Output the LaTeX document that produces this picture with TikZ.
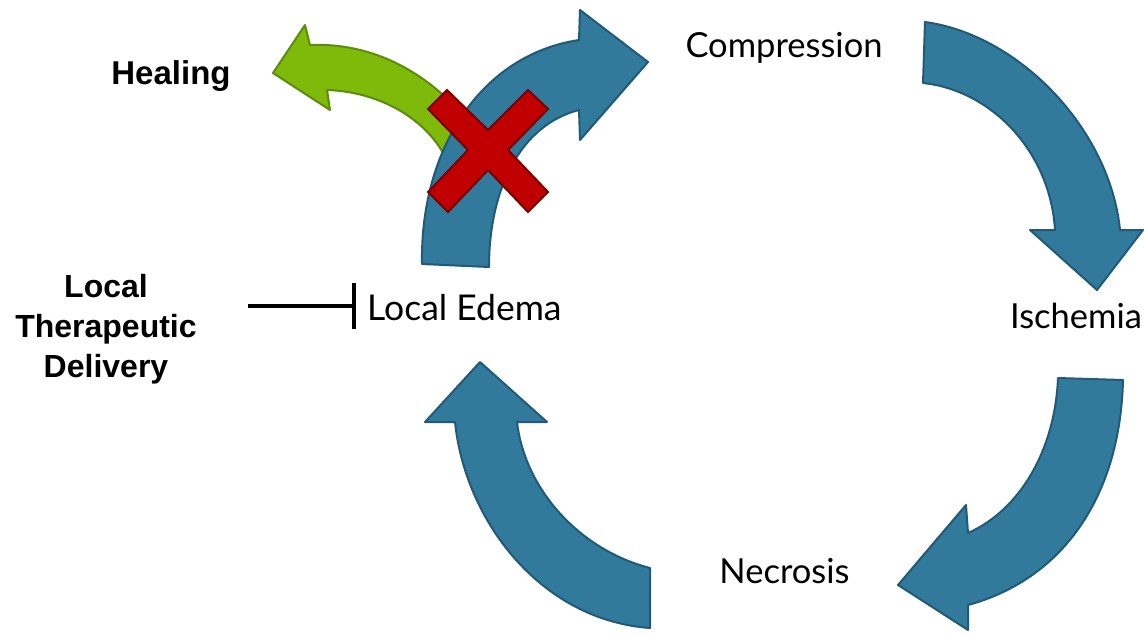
\documentclass[tikz,border=0pt]{standalone}
\usepackage{fontspec}
\setmainfont{Lato}
\newfontfamily\boldsans{Liberation Sans}
\usetikzlibrary{arrows.meta}

\definecolor{cycblue}{RGB}{49,122,155}
\definecolor{cycedge}{RGB}{33,90,118}
\definecolor{healgreen}{RGB}{127,186,10}
\definecolor{healedge}{RGB}{92,140,12}
\definecolor{stopred}{RGB}{192,0,0}
\definecolor{stopedge}{RGB}{120,0,0}

\tikzset{
  cyc/.style={fill=cycblue, draw=cycedge, line width=2pt, line join=round},
  heal/.style={fill=healgreen, draw=healedge, line width=2pt, line join=round},
  stage/.style={font=\fontsize{34.5}{40}\selectfont, inner sep=0pt},
  cue/.style={font=\boldsans\bfseries\fontsize{32}{40}\selectfont, align=center, inner sep=0pt}
}

\begin{document}
\begin{tikzpicture}[x=1pt, y=-1pt]
\useasboundingbox (0,0) rectangle (1144,635);

% green arrow to healing
\draw[heal] (452,175) .. controls (440,128) and (388,92) .. (327,90)
  -- (330,110) -- (273,73) -- (305,25) -- (310,45)
  .. controls (380,42) and (440,80) .. (478,135) -- cycle;

% cycle arrows
\draw[cyc] (422,264) .. controls (420,150) and (480,55) .. (579,40)
  -- (580,10) -- (648,62) -- (580,140) -- (579,110)
  .. controls (520,125) and (489,190) .. (489,267) -- cycle;
\draw[cyc] (925,22) .. controls (1020,35) and (1110,130) .. (1120,230)
  -- (1143,230) -- (1097,290) -- (1030,230) -- (1055,230)
  .. controls (1050,150) and (990,90) .. (923,83) -- cycle;
\draw[cyc] (1123,380) .. controls (1120,500) and (1060,580) .. (968,605)
  -- (968,630) -- (898,585) -- (966,505) -- (968,533)
  .. controls (1020,510) and (1055,450) .. (1058,378) -- cycle;
\draw[cyc] (650,628) .. controls (540,620) and (465,520) .. (455,422)
  -- (425,422) -- (480,362) -- (547,422) -- (517,422)
  .. controls (525,490) and (580,550) .. (650,568) -- cycle;

% blocked path
\draw[fill=stopred, draw=stopedge, line width=2pt, line join=miter]
  (428,109) -- (447,90) -- (488,130) -- (528,90) -- (548,109) -- (508,150)
  -- (548,192) -- (528,212) -- (488,170) -- (448,212) -- (428,192)
  -- (468,150) -- cycle;

\node[stage] (comp) at (784,48) {Compression};
\node[stage] (isch) at (1076,316) {Ischemia};
\node[stage] (necr) at (784.5,571) {Necrosis};
\node[stage, font=\fontsize{35.5}{40}\selectfont, anchor=west] (edema) at (367,308) {Local Edema};

\node[cue, font=\boldsans\bfseries\fontsize{33}{39}\selectfont] (healing) at (171,76) {Healing};
\node[cue] (ltd) at (106,329) {Local\\Therapeutic\\Delivery};

\coordinate (inh) at (248,306);
\draw[line width=4.5pt, -{Bar[width=46pt, line width=4.5pt]}, shorten >=11pt] (inh) -- (edema.west |- inh);
\end{tikzpicture}
\end{document}
